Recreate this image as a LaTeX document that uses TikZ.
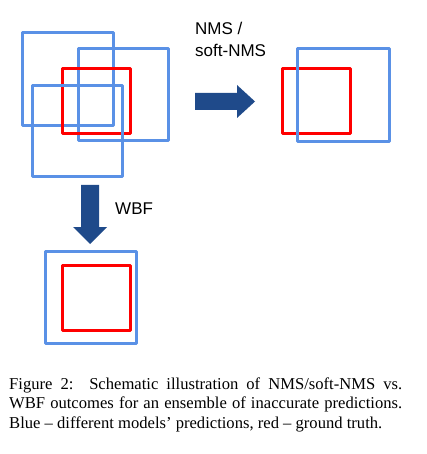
\documentclass[tikz,border=0pt]{standalone}
\usepackage{fontspec}
\setmainfont{Liberation Serif}
\newfontfamily\arialf{Liberation Sans}
\definecolor{predblue}{HTML}{5A91E6}
\definecolor{gtred}{HTML}{FF0000}
\definecolor{arrowblue}{HTML}{1F4A8A}
\begin{document}
\begin{tikzpicture}[x=1pt,y=-1pt,
  pred/.style={draw=predblue,line width=3pt,line join=round},
  gt/.style={draw=gtred,line width=3pt,line join=round},
  blockarrow/.style={fill=arrowblue,draw=none},
  lbl/.style={font=\arialf\fontsize{17}{21.7}\selectfont,inner sep=0pt,anchor=base west,align=left}]
\useasboundingbox (0,0) rectangle (427,454);
% ensemble of predictions
\draw[pred] (22,33) rectangle (113,126);
\draw[pred] (78,49) rectangle (168,141);
\draw[gt] (62,69) rectangle (130,134);
\draw[pred] (32,86) rectangle (122,177);
% NMS result
\draw[gt] (282,69) rectangle (350,134);
\draw[pred] (297,49) rectangle (389,142);
% WBF result
\draw[pred] (45,251) rectangle (136,343);
\draw[gt] (62,265) rectangle (130,330);
% arrows
\fill[blockarrow] (195,93) -- (237,93) -- (237,85) -- (255,101.5) -- (237,118) -- (237,110) -- (195,110) -- cycle;
\fill[blockarrow] (81,185) -- (99,185) -- (99,227) -- (107,227) -- (90,244) -- (73,227) -- (81,227) -- cycle;
% labels
\node[lbl] (nms) at (195,56.3) {NMS /\\soft-NMS};
\node[lbl] (wbf) at (115,214.3) {WBF};
% caption
\node[inner sep=0pt,anchor=base west,text width=393pt,align=justify,
  font=\fontsize{16.6}{19.6}\selectfont] (cap) at (9,389)
  {Figure 2:\hspace{0.15em} Schematic illustration of NMS/soft-NMS vs.\linebreak
   WBF outcomes for an ensemble of inaccurate predictions.\linebreak
   Blue -- different models’ predictions, red -- ground truth.};
\end{tikzpicture}
\end{document}
